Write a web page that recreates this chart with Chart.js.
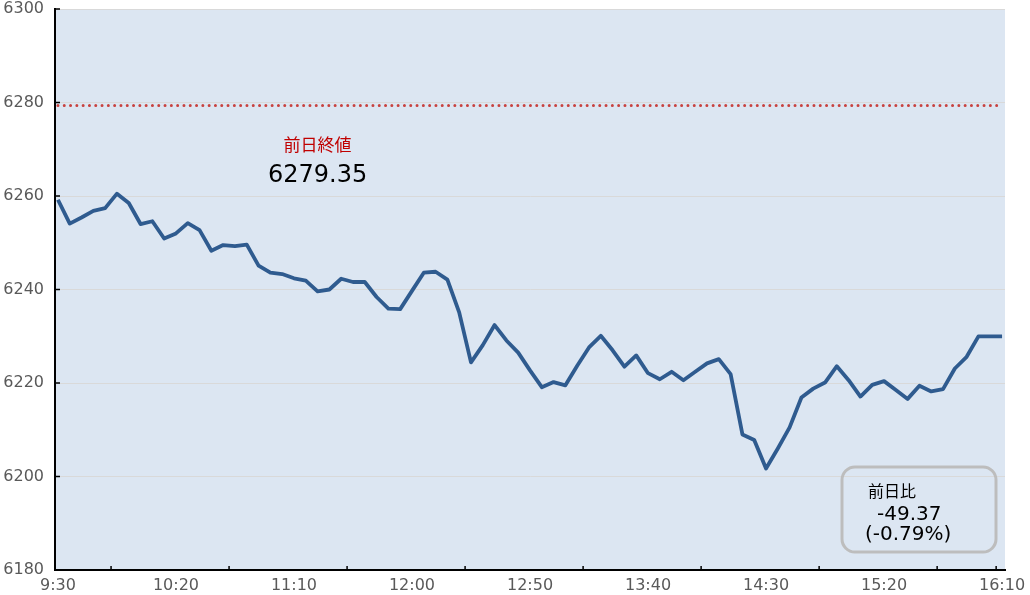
<!DOCTYPE html>
<html lang="ja">
<head>
<meta charset="utf-8">
<title>前日比チャート</title>
<script src="https://cdn.jsdelivr.net/npm/chart.js@4/dist/chart.umd.min.js"></script>
<style>
  html, body { margin: 0; padding: 0; background: #fff; }
  #wrap { width: 1030px; height: 595px; }
</style>
</head>
<body>
<div id="wrap"><canvas id="priceChart" width="1030" height="595"></canvas></div>
<script>
// 5分足の終値 (9:30 〜 16:10)
const prices = [
  6259.2, 6254.1, 6255.4, 6256.8, 6257.4, 6260.5, 6258.5, 6254.0, 6254.6, 6250.9,
  6252.0, 6254.2, 6252.7, 6248.3, 6249.5, 6249.3, 6249.6, 6245.1, 6243.6, 6243.3,
  6242.4, 6241.9, 6239.6, 6240.0, 6242.3, 6241.6, 6241.6, 6238.4, 6235.9, 6235.8,
  6239.7, 6243.6, 6243.8, 6242.1, 6235.1, 6224.4, 6228.1, 6232.4, 6229.1, 6226.5,
  6222.7, 6219.1, 6220.2, 6219.5, 6223.7, 6227.6, 6230.1, 6227.0, 6223.5, 6225.9,
  6222.1, 6220.8, 6222.4, 6220.6, 6222.4, 6224.2, 6225.1, 6221.9, 6209.0, 6207.8,
  6201.7, 6206.0, 6210.5, 6216.9, 6218.8, 6220.1, 6223.6, 6220.6, 6217.1, 6219.6,
  6220.4, 6218.5, 6216.6, 6219.4, 6218.2, 6218.7, 6223.1, 6225.6, 6229.98, 6229.98,
  6229.98
];
const tickLabels = ['9:30', '10:20', '11:10', '12:00', '12:50', '13:40', '14:30', '15:20', '16:10'];
const yTicks = [6180, 6200, 6220, 6240, 6260, 6280, 6300];
const prevClose = 6279.35;
const diffText = ['前日比', '-49.37', '(-0.79%)'];

document.addEventListener('DOMContentLoaded', () => {
  const ctx = document.getElementById('priceChart').getContext('2d');
  const FONT = "'DejaVu Sans', 'Noto Sans CJK JP', sans-serif";

  const lineData = prices.map((v, i) => ({ x: i, y: v }));
  const closeData = prices.map((v, i) => ({ x: i, y: prevClose }));

  const decorPlugin = {
    id: 'decor',
    beforeDraw(chart) {
      const { ctx, chartArea: a } = chart;
      ctx.save();
      ctx.fillStyle = '#dce6f2';
      ctx.fillRect(a.left, a.top, a.right - a.left, a.bottom - a.top);
      ctx.restore();
    },
    afterDraw(chart) {
      const { ctx, chartArea: a, scales } = chart;
      const xs = scales.x, ys = scales.y;
      ctx.save();

      // inward tick marks
      ctx.strokeStyle = '#000';
      ctx.lineWidth = 1.5;
      yTicks.forEach(v => {
        const y = ys.getPixelForValue(v);
        ctx.beginPath();
        ctx.moveTo(a.left, y);
        ctx.lineTo(a.left + 5, y);
        ctx.stroke();
      });
      const marks = [];
      for (let i = 4.5; i < prices.length - 1; i += 10) marks.push(i);
      marks.push(prices.length - 1.5);
      marks.forEach(i => {
        const x = xs.getPixelForValue(i);
        ctx.beginPath();
        ctx.moveTo(x, a.bottom);
        ctx.lineTo(x, a.bottom - 4);
        ctx.stroke();
      });

      // previous close label
      const lx = xs.getPixelForValue(22);
      ctx.textAlign = 'center';
      ctx.textBaseline = 'middle';
      ctx.fillStyle = '#c00000';
      ctx.font = '17px ' + FONT;
      ctx.fillText('前日終値', lx, ys.getPixelForValue(6270.5));
      ctx.fillStyle = '#000';
      ctx.font = '24px ' + FONT;
      ctx.fillText(prevClose.toFixed(2), lx, ys.getPixelForValue(6264.3));

      // difference box
      const bx = a.right - 163, by = a.bottom - 103, bw = 154, bh = 85, r = 13;
      ctx.strokeStyle = '#bdbdbd';
      ctx.lineWidth = 3;
      ctx.beginPath();
      ctx.roundRect(bx, by, bw, bh, r);
      ctx.stroke();

      ctx.textAlign = 'left';
      ctx.fillStyle = '#000';
      ctx.font = '16px ' + FONT;
      ctx.fillText(diffText[0], bx + 26, by + 26);
      ctx.font = '20px ' + FONT;
      ctx.fillText(diffText[1], bx + 35, by + 48);
      ctx.fillText(diffText[2], bx + 23, by + 68);
      ctx.restore();
    }
  };

  new Chart(ctx, {
    type: 'line',
    data: {
      datasets: [
        {
          label: '終値',
          data: lineData,
          borderColor: '#2f5b8f',
          borderWidth: 3.8,
          pointRadius: 0,
          tension: 0,
          borderJoinStyle: 'round',
          order: 1
        },
        {
          label: '前日終値',
          data: closeData,
          borderColor: '#c8423f',
          borderWidth: 3,
          borderDash: [0, 6.3],
          borderCapStyle: 'round',
          pointRadius: 0,
          order: 2
        }
      ]
    },
    options: {
      responsive: false,
      animation: false,
      devicePixelRatio: 1,
      layout: { padding: { top: 9, right: 25, left: 0, bottom: 0 } },
      plugins: {
        legend: { display: false },
        tooltip: { enabled: false }
      },
      scales: {
        x: {
          type: 'linear',
          min: -0.25,
          max: prices.length - 0.75,
          afterBuildTicks: (s) => {
            s.ticks = tickLabels.map((t, i) => ({ value: i * 10 }));
          },
          afterFit: (s) => {
            s.height = 25;
            s.paddingLeft = 0;
            s.paddingRight = 0;
          },
          grid: { display: false, drawTicks: false },
          border: { color: '#000', width: 2 },
          ticks: {
            padding: 6,
            color: '#595959',
            font: { family: FONT, size: 16 },
            maxRotation: 0,
            autoSkip: false,
            callback: (v) => tickLabels[Math.round(v / 10)]
          }
        },
        y: {
          min: 6180,
          max: 6300,
          afterBuildTicks: (s) => {
            s.ticks = yTicks.map(v => ({ value: v }));
          },
          afterFit: (s) => {
            s.width = 55;
            s.paddingTop = 0;
            s.paddingBottom = 0;
          },
          grid: { color: '#d9d9d9', lineWidth: 1, drawTicks: false },
          border: { color: '#000', width: 2 },
          ticks: {
            padding: 11,
            color: '#595959',
            font: { family: FONT, size: 16 },
            callback: (v) => String(v)
          }
        }
      }
    },
    plugins: [decorPlugin]
  });
});
</script>
</body>
</html>
